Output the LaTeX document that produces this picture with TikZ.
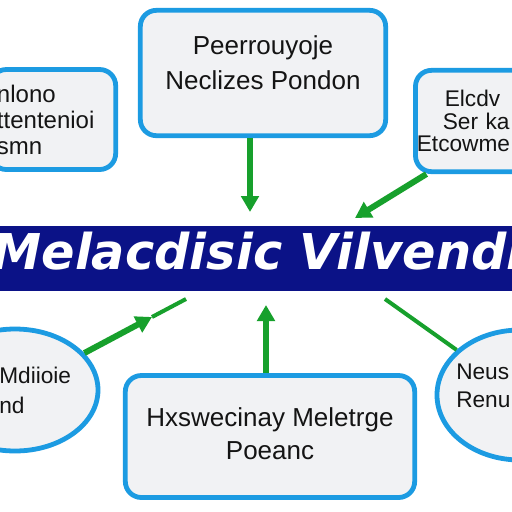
\documentclass[tikz,border=0pt]{standalone}
\usepackage{fontspec}
\setmainfont{Liberation Sans}
\newfontfamily\titlefont{DejaVu Sans}
\usepackage{xcolor}
\usetikzlibrary{arrows.meta,shapes.geometric,calc}
\definecolor{boxblue}{HTML}{1C9BE2}
\definecolor{boxfill}{HTML}{F1F2F4}
\definecolor{bannerblue}{HTML}{0B1287}
\definecolor{arrowgreen}{HTML}{17A02C}
\tikzset{
    infobox/.style={
        draw=boxblue,
        line width=3.6pt,
        rounded corners=12pt,
        fill=boxfill,
        align=center,
        text=black!92,
        inner sep=4pt
    },
    sidebox/.style={
        infobox,
        align=left
    },
    ovalbox/.style={
        ellipse,
        draw=boxblue,
        line width=3.6pt,
        fill=boxfill,
        inner sep=0pt
    },
    ovaltext/.style={
        anchor=west,
        align=left,
        text=black!92,
        inner sep=0pt
    },
    bannerbox/.style={
        fill=bannerblue,
        text=white,
        inner sep=0pt,
        font=\titlefont\fontsize{37}{40}\selectfont\bfseries\itshape
    },
    flow/.style={
        -{Triangle[width=13pt,length=12pt]},
        arrowgreen,
        line width=4.5pt
    },
    link/.style={
        arrowgreen,
        line width=3pt
    }
}

\begin{document}
\begin{tikzpicture}[x=0.75pt, y=-0.75pt]
    \useasboundingbox[fill=white] (0,0) rectangle (512,512);

    % boxes round the title
    \node[infobox, minimum width=184pt, minimum height=94pt, text depth=16pt,
          font=\fontsize{19.5}{26}\selectfont] (topbox) at (263,73) {
        Peerrouyoje\\
        Neclizes Pondon
    };

    \node[sidebox, minimum width=94pt, minimum height=75pt, inner xsep=5pt,
          text width=84pt,
          font=\fontsize{18}{19.5}\selectfont] (leftbox) at (53,119.5) {
        nlono\\
        ttentenioi\\
        smn
    };

    \node[sidebox, minimum width=90pt, minimum height=76pt, inner xsep=1pt,
          text width=88pt,
          font=\fontsize{17}{17}\selectfont] (rightbox) at (475.5,121) {
        \hspace*{21pt}Elcdv\\
        \hspace*{19.5pt}Ser ka\\
        Etcowme
    };

    \node[infobox, minimum width=217pt, minimum height=91.5pt, text depth=4pt,
          font=\fontsize{19.5}{25}\selectfont] (bottombox) at (270,436.5) {
        Hxswecinay Meletrge\\
        Poeanc
    };

    \node[ovalbox, minimum width=124.5pt, minimum height=91.5pt] (ovalL) at (15,390) {};
    \node[ovaltext, font=\fontsize{17}{22.5}\selectfont] (ovalLtext) at (-1,390) {
        Mdiioie\\
        nd
    };

    \node[ovalbox, minimum width=124.5pt, minimum height=97.5pt] (ovalR) at (520,395) {};
    \node[ovaltext, font=\fontsize{17}{21}\selectfont] (ovalRtext) at (456,386) {
        Neus\\
        Renu
    };

    % title band
    \fill[bannerblue] (0,226) rectangle (512,291);
    \node[bannerbox, minimum height=48.75pt, text depth=11.5pt]
        (banner) at (258,258.5) {Melacdisic Vilvendi};

    % connectors
    \coordinate (tip1) at (250,212);
    \coordinate (tip2) at (355,218);
    \coordinate (tip3) at (266,305);
    \coordinate (tip4) at (152,317);
    \coordinate (end4) at (186,299);
    \coordinate (end5) at (385,299);

    \draw[flow] (topbox.south -| tip1) -- (tip1);
    \draw[flow] ([xshift=10pt]rightbox.south west) -- (tip2);
    \draw[flow] (bottombox.north -| tip3) -- (tip3);
    \draw[flow] (ovalL) -- (tip4);
    \draw[link] (tip4) -- (end4);
    \draw[link] (end5) -- (ovalR);
\end{tikzpicture}
\end{document}
